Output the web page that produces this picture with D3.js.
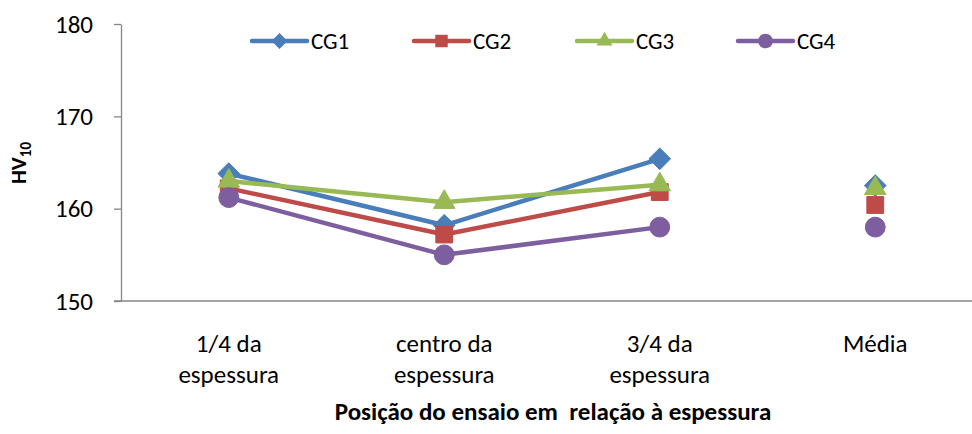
<!DOCTYPE html>
<html>
<head>
<meta charset="utf-8">
<script src="https://cdn.jsdelivr.net/npm/d3@7"></script>
<style>
  html, body { margin: 0; padding: 0; background: #fff; }
  svg { display: block; font-family: Carlito, Calibri, Lato, sans-serif; }
</style>
</head>
<body>
<svg id="chart" width="972" height="434"></svg>
<script>
// Hardness (HV10) measured at each position across the thickness
const categories = [
  ["1/4 da", "espessura"],
  ["centro da", "espessura"],
  ["3/4 da", "espessura"],
  ["Média"]
];
const seriesNames = ["CG1", "CG2", "CG3", "CG4"];
const cg1 = [163.8, 158.2, 165.4, 162.5];
const cg2 = [162.2, 157.2, 161.8, 160.4];
const cg3 = [163.0, 160.7, 162.6, 162.2];
const cg4 = [161.2, 155.0, 158.0, 158.0];
const yTicks = [150, 160, 170, 180];
// The averages column stands alone, without a connecting line
const joined = [true, true, true, false];

const colors = ["#4A7EBB", "#BE4B48", "#98B954", "#7D5FA0"];
const shapes = [d3.symbolDiamond2, d3.symbolSquare2, d3.symbolTriangle2, d3.symbolCircle];
const sizes = [300, 360, 330, 310];
const series = [cg1, cg2, cg3, cg4].map((values, i) => ({
  name: seriesNames[i], values, color: colors[i], shape: shapes[i], size: sizes[i]
}));

const svg = d3.select("#chart");
const plotLeft = 121, plotRight = 983, plotTop = 24, plotBottom = 301;

const x = d3.scalePoint()
  .domain(d3.range(categories.length))
  .range([plotLeft, plotRight])
  .padding(0.5);
const y = d3.scaleLinear().domain([150, 180]).range([plotBottom, plotTop]);

// Y axis
const yAxis = svg.append("g")
  .attr("transform", `translate(${plotLeft},0)`)
  .call(d3.axisLeft(y).tickValues(yTicks).tickSize(7).tickPadding(21).tickSizeOuter(0));
yAxis.select(".domain").attr("stroke", "#868686").attr("stroke-width", 1.3);
yAxis.selectAll(".tick line").attr("stroke", "#868686").attr("stroke-width", 1.3);
yAxis.selectAll(".tick text")
  .attr("font-size", 25).attr("fill", "#000")
  .attr("font-family", "Carlito, Calibri, Lato, sans-serif");

// X axis line
const xAxis = svg.append("g")
  .attr("transform", `translate(0,${plotBottom})`)
  .call(d3.axisBottom(x).tickSize(0).tickFormat(() => "").tickSizeOuter(0));
xAxis.select(".domain").attr("stroke", "#868686").attr("stroke-width", 1.3)
  .attr("d", `M${plotLeft - 7},0H972`);

// Category labels (two lines each)
const catG = svg.append("g");
categories.forEach((lines, i) => {
  const t = catG.append("text")
    .attr("x", x(i)).attr("y", 352)
    .attr("text-anchor", "middle").attr("font-size", 25).attr("fill", "#000");
  lines.forEach((ln, j) => {
    t.append("tspan").attr("x", x(i)).attr("dy", j === 0 ? 0 : 31).text(ln);
  });
});

// Axis titles
svg.append("text")
  .attr("x", 553).attr("y", 420)
  .attr("text-anchor", "middle").attr("font-size", 25).attr("font-weight", "bold")
  .attr("xml:space", "preserve")
  .text("Posição do ensaio em  relação à espessura");

const yt = svg.append("text")
  .attr("transform", "translate(26,163) rotate(-90)")
  .attr("text-anchor", "middle").attr("font-size", 22).attr("font-weight", "bold");
yt.append("tspan").text("HV");
yt.append("tspan").attr("font-size", 15).attr("dy", 5).text("10");

// Series lines and markers
const line = d3.line()
  .defined((d, i) => joined[i])
  .x((d, i) => x(i))
  .y(d => y(d));

series.forEach(s => {
  const g = svg.append("g");
  g.append("path")
    .attr("d", line(s.values))
    .attr("fill", "none").attr("stroke", s.color)
    .attr("stroke-width", 4.5).attr("stroke-linejoin", "round");
  g.selectAll("path.mark")
    .data(s.values)
    .join("path")
    .attr("class", "mark")
    .attr("transform", (d, i) => `translate(${x(i)},${y(d)})`)
    .attr("d", d3.symbol().type(s.shape).size(s.size))
    .attr("fill", s.color).attr("stroke", s.color).attr("stroke-width", 1);
});

// Legend
const legendX = [252, 414, 577, 738];
const legend = svg.append("g");
series.forEach((s, k) => {
  const lx = legendX[k], ly = 41;
  legend.append("line")
    .attr("x1", lx).attr("x2", lx + 55).attr("y1", ly).attr("y2", ly)
    .attr("stroke", s.color).attr("stroke-width", 4.5).attr("stroke-linecap", "round");
  legend.append("path")
    .attr("transform", `translate(${lx + 27.5},${ly})`)
    .attr("d", d3.symbol().type(s.shape).size(s.size * 0.55))
    .attr("fill", s.color);
  legend.append("text")
    .attr("x", lx + 59).attr("y", ly + 8)
    .attr("font-size", 23).attr("fill", "#000")
    .text(s.name);
});
</script>
</body>
</html>
